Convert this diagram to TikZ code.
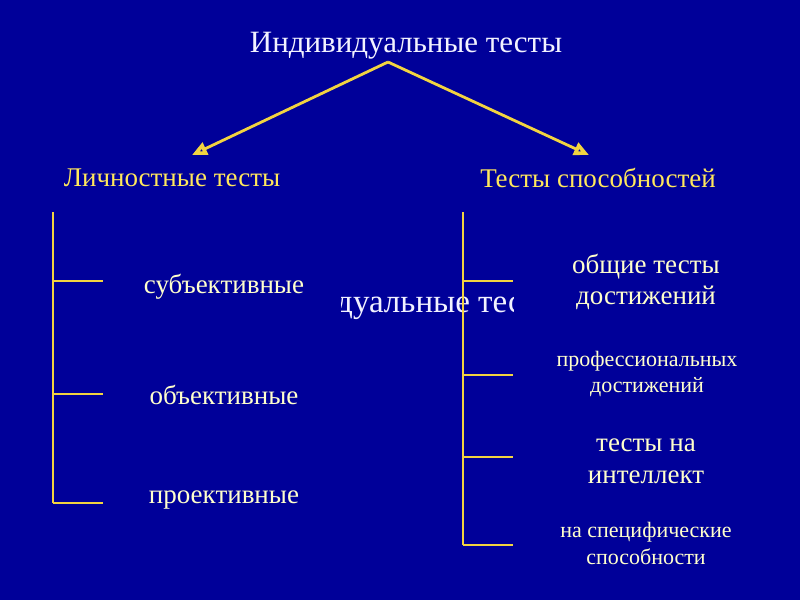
\documentclass[tikz,border=0pt]{standalone}
\usepackage{fontspec}
\setmainfont{Liberation Serif}
\usepackage{xcolor}
\definecolor{slide}{HTML}{000099}
\definecolor{pale}{HTML}{F2F2FF}
\definecolor{gold}{HTML}{FFE85C}
\definecolor{cream}{HTML}{FFFFCC}
\definecolor{rule}{HTML}{F2D440}
\usepackage{tikz}
\usetikzlibrary{positioning, arrows.meta}
\tikzset{
    heading/.style = {text=pale, inner sep=0pt, font=\fontsize{31}{34}\selectfont},
    branch/.style = {text=gold, inner sep=0pt, font=\fontsize{27}{30}\selectfont},
    item/.style = {text=cream, inner sep=0pt, align=center,
                   font=\fontsize{27}{31}\selectfont},
    smallitem/.style = {text=cream, inner sep=0pt, align=center,
                        font=\fontsize{22}{26}\selectfont},
    ghost/.style = {text=pale, inner sep=0pt, anchor=base west,
                    font=\fontsize{33}{36}\selectfont},
    arrow/.style = {-{Triangle[open, length=15pt, width=13pt, line width=3.6pt]},
                    line width=2.8pt, color=rule},
    tree/.style = {line width=2.8pt, color=rule},
}

\begin{document}
\begin{tikzpicture}[x=1pt, y=-1pt]
        \fill[slide] (0,0) rectangle (800,600);
        \useasboundingbox (0,0) rectangle (800,600);
        % stray copy of the title, cut off
        \begin{scope}
          \clip (341,270) rectangle (513,335);
          \node[ghost] (ghost) at (336,312) {дуальные тесты};
        \end{scope}
        % headings
        \node[heading] (title) at (406,46) {Индивидуальные тесты};
        \node[branch] (personal) at (172,178) {Личностные тесты};
        \node[branch] (ability) at (598,178) {Тесты способностей};
        \coordinate (apex) at (388,62);
        \coordinate (ptip) at (192,155);
        \coordinate (atip) at (589,155);
        \draw[arrow] (apex) -- (ptip);
        \draw[arrow] (apex) -- (atip);
        % left bracket
        \coordinate (ltop) at (53,212);
        \coordinate (lbot) at (53,503);
        \draw[tree] (ltop) -- (lbot);
        \foreach \y/\n in {281/l1, 394/l2, 503/l3} {
            \coordinate (\n a) at (53,\y);
            \coordinate (\n b) at (103,\y);
            \draw[tree] (\n a) -- (\n b);
        }
        \node[item] (subj) at (224,287) {субъективные};
        \node[item] (obj) at (224,395) {объективные};
        \node[item] (proj) at (224,500) {проективные};
        % right bracket
        \coordinate (rtop) at (463,212);
        \coordinate (rbot) at (463,545);
        \draw[tree] (rtop) -- (rbot);
        \foreach \y/\n in {281/r1, 375/r2, 457/r3, 545/r4} {
            \coordinate (\n a) at (463,\y);
            \coordinate (\n b) at (513,\y);
            \draw[tree] (\n a) -- (\n b);
        }
        \node[item] (general) at (646,282) {общие тесты\\достижений};
        \node[smallitem] (prof) at (647,374) {профессиональных\\достижений};
        \node[item, font=\fontsize{27}{32}\selectfont] (intel) at (646,461) {тесты на\\интеллект};
        \node[smallitem, font=\fontsize{22}{27}\selectfont] (spec) at (646,543) {на специфические\\способности};
      \end{tikzpicture}
\end{document}
